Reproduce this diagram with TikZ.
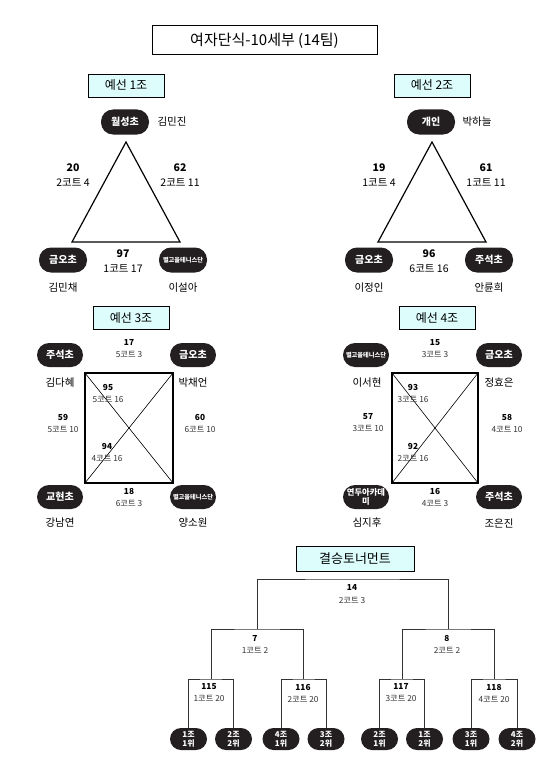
\documentclass[tikz,border=0pt]{standalone}
\usepackage{fontspec}
\setmainfont{Noto Sans CJK KR}
\usepackage{tikz}
\usetikzlibrary{positioning}
\definecolor{pilldark}{HTML}{231F20}
\definecolor{boxcyan}{HTML}{DDFDFD}
\definecolor{textgray}{HTML}{333333}

\tikzset{
  team/.style={fill=pilldark, text=white, font=\bfseries\fontsize{10}{11}\selectfont,
    rounded corners=12pt, minimum width=48pt, minimum height=25pt, inner sep=1pt, align=center},
  tiny/.style={font=\bfseries\fontsize{6.2}{7}\selectfont},
  seed/.style={team, rounded corners=11pt, minimum width=37pt, minimum height=22pt,
    font=\bfseries\fontsize{8}{9.5}\selectfont},
  player/.style={font=\fontsize{10.5}{12}\selectfont},
  grouplabel/.style={draw, fill=boxcyan, line width=0.8pt, minimum width=76pt,
    minimum height=23pt, inner sep=0pt, font=\fontsize{12}{13}\selectfont},
  bigmatch/.style={align=center, font=\fontsize{10.5}{15}\selectfont},
  match/.style={align=center, text=textgray, font=\fontsize{8.3}{12}\selectfont},
  link/.style={line width=0.8pt, draw=textgray}
}

\begin{document}
\begin{tikzpicture}[x=1pt, y=-1pt]
    \useasboundingbox (0,0) rectangle (550,773);

    % title
    \node[draw, line width=1pt, minimum width=225pt, minimum height=29pt,
      font=\fontsize{15}{16}\selectfont] (title) at (264.5,40.5) {여자단식-10세부 (14팀)};

    % group 1
    \node[grouplabel] (g1) at (126,85.5) {예선 1조};
    \node[team] (t1a) at (125,122) {월성초};
    \node[player] (n1a) at (172,122) {김민진};
    \node[team] (t1b) at (63,260) {금오초};
    \node[player] (n1b) at (63,288) {김민채};
    \node[team, tiny] (t1c) at (183,260) {별고을테니스단};
    \node[player] (n1c) at (183,288) {이설아};
    \coordinate (v1a) at (126,142);
    \coordinate (v1b) at (72,242);
    \coordinate (v1c) at (180,242);
    \draw[line width=1.2pt, line join=miter] (v1a) -- (v1b) -- (v1c) -- cycle;
    \node[bigmatch] (m20) at (73,175.5) {\textbf{20}\\2코트 4};
    \node[bigmatch] (m62) at (180,175.5) {\textbf{62}\\2코트 11};
    \node[bigmatch] (m97) at (123,261.5) {\textbf{97}\\1코트 17};

    % group 2
    \node[grouplabel] (g2) at (432,85.5) {예선 2조};
    \node[team] (t2a) at (431,122) {개인};
    \node[player] (n2a) at (477,122) {박하늘};
    \node[team] (t2b) at (369,260) {금오초};
    \node[player] (n2b) at (369,288) {이정인};
    \node[team] (t2c) at (489,260) {주석초};
    \node[player] (n2c) at (489,288) {안륜희};
    \coordinate (v2a) at (432,142);
    \coordinate (v2b) at (378,242);
    \coordinate (v2c) at (486,242);
    \draw[line width=1.2pt, line join=miter] (v2a) -- (v2b) -- (v2c) -- cycle;
    \node[bigmatch] (m19) at (379,175.5) {\textbf{19}\\1코트 4};
    \node[bigmatch] (m61) at (486,175.5) {\textbf{61}\\1코트 11};
    \node[bigmatch] (m96) at (429,261.5) {\textbf{96}\\6코트 16};

    % group 3
    \node[grouplabel] (g3) at (131,318) {예선 3조};
    \node[team, minimum width=46pt, minimum height=24pt] (t3a) at (60,355) {주석초};
    \node[player] (n3a) at (60,383) {김다혜};
    \node[team, minimum width=46pt, minimum height=24pt] (t3b) at (193,355) {금오초};
    \node[player] (n3b) at (193,383) {박채언};
    \node[team, minimum width=46pt, minimum height=24pt] (t3c) at (60,497) {교현초};
    \node[player] (n3c) at (60,523) {강남연};
    \node[team, tiny, minimum width=46pt, minimum height=24pt] (t3d) at (193,497) {별고을테니스단};
    \node[player] (n3d) at (193,523) {양소원};
    \coordinate (s3a) at (85,373);
    \coordinate (s3d) at (173,483);
    \draw[line width=1.2pt] (s3a) rectangle (s3d);
    \draw[line width=0.6pt] (s3a) -- (s3d) (s3a -| s3d) -- (s3a |- s3d);
    \node[match] (m17) at (129,349) {\textbf{\color{black}17}\\5코트 3};
    \node[match] (m95) at (108,393.5) {\textbf{\color{black}95}\\5코트 16};
    \node[match] (m59) at (63,423) {\textbf{\color{black}59}\\5코트 10};
    \node[match] (m60) at (200,423.5) {\textbf{\color{black}60}\\6코트 10};
    \node[match] (m94) at (107,452.5) {\textbf{\color{black}94}\\4코트 16};
    \node[match] (m18) at (129,497.5) {\textbf{\color{black}18}\\6코트 3};

    % group 4
    \node[grouplabel] (g4) at (437,318) {예선 4조};
    \node[team, tiny, minimum width=46pt, minimum height=24pt] (t4a) at (366,355) {별고을테니스단};
    \node[player] (n4a) at (367,383) {이서현};
    \node[team, minimum width=46pt, minimum height=24pt] (t4b) at (499,355) {금오초};
    \node[player] (n4b) at (499,383) {정효은};
    \node[team, minimum width=46pt, minimum height=24pt, font=\bfseries\fontsize{8.3}{9}\selectfont] (t4c) at (366,497) {연두아카데\\미};
    \node[player] (n4c) at (367,523) {심지후};
    \node[team, minimum width=46pt, minimum height=24pt] (t4d) at (499,497) {주석초};
    \node[player] (n4d) at (499,523) {조은진};
    \coordinate (s4a) at (392,373);
    \coordinate (s4d) at (478,483);
    \draw[line width=1.2pt] (s4a) rectangle (s4d);
    \draw[line width=0.6pt] (s4a) -- (s4d) (s4a -| s4d) -- (s4a |- s4d);
    \node[match] (m15) at (435,349) {\textbf{\color{black}15}\\3코트 3};
    \node[match] (m93) at (413,393.5) {\textbf{\color{black}93}\\3코트 16};
    \node[match] (m57) at (368,423) {\textbf{\color{black}57}\\3코트 10};
    \node[match] (m58) at (507,423.5) {\textbf{\color{black}58}\\4코트 10};
    \node[match] (m92) at (413,452.5) {\textbf{\color{black}92}\\2코트 16};
    \node[match] (m16) at (435,497.5) {\textbf{\color{black}16}\\4코트 3};

    % final bracket
    \node[grouplabel, minimum width=118pt, minimum height=25pt, font=\fontsize{13}{14}\selectfont] (fin) at (355,558.5) {결승토너먼트};
    \node[seed] (p1) at (188.5,739) {1조\\1위};
    \node[seed] (p2) at (233.5,739) {2조\\2위};
    \node[seed] (p3) at (281,739) {4조\\1위};
    \node[seed] (p4) at (326,739) {3조\\2위};
    \node[seed] (p5) at (379.5,739) {2조\\1위};
    \node[seed] (p6) at (424.5,739) {1조\\2위};
    \node[seed] (p7) at (471,739) {3조\\1위};
    \node[seed] (p8) at (517,739) {4조\\2위};
    \coordinate (c115) at (211,679);
    \coordinate (c116) at (303.5,679);
    \coordinate (c117) at (402,679);
    \coordinate (c118) at (494,679);
    \coordinate (c7) at (257,629);
    \coordinate (c8) at (448,629);
    \coordinate (c14) at (352,579);
    \draw[link] (p1) |- (c115) -| (p2);
    \draw[link] (p3) |- (c116) -| (p4);
    \draw[link] (p5) |- (c117) -| (p6);
    \draw[link] (p7) |- (c118) -| (p8);
    \draw[link] (c115) |- (c7) -| (c116);
    \draw[link] (c117) |- (c8) -| (c118);
    \draw[link] (c7) |- (c14) -| (c8);
    \node[match, font=\fontsize{8.3}{13}\selectfont] (m14) at (352,594.5) {\textbf{\color{black}14}\\2코트 3};
    \node[match] (m7) at (255,644) {\textbf{\color{black}7}\\1코트 2};
    \node[match] (m8) at (447,644) {\textbf{\color{black}8}\\2코트 2};
    \node[match] (m115) at (209,693) {\textbf{\color{black}115}\\1코트 20};
    \node[match] (m116) at (303,693) {\textbf{\color{black}116}\\2코트 20};
    \node[match] (m117) at (401,693) {\textbf{\color{black}117}\\3코트 20};
    \node[match] (m118) at (494,693) {\textbf{\color{black}118}\\4코트 20};
\end{tikzpicture}
\end{document}
